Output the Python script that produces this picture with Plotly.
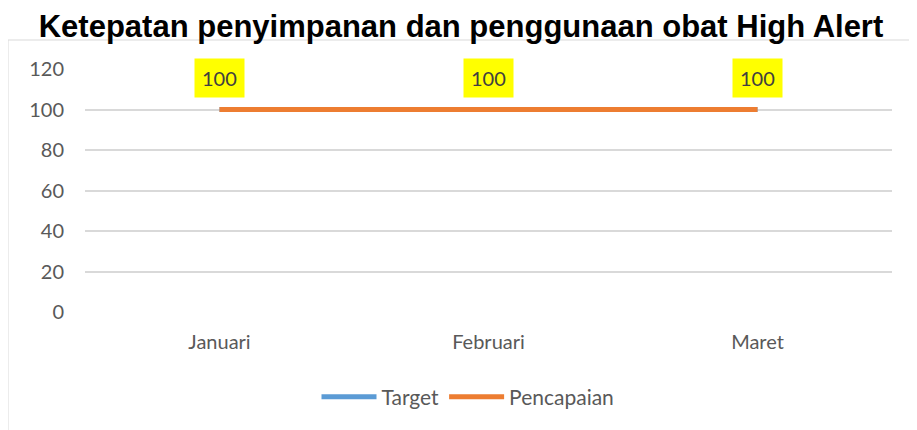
import plotly.graph_objects as go

categories = ["Januari", "Februari", "Maret"]
target = [100, 100, 100]
pencapaian = [100, 100, 100]
y_ticks = [0, 20, 40, 60, 80, 100, 120]

# page offset from default body margin
OFF = 8
W, H = 917 - OFF, 430 - OFF
L = 85 - OFF
T = 69 - OFF
R = W - (892 - OFF)
B = H - (312 - OFF)
pw = W - L - R
ph = H - T - B
FONT = "Lato, Open Sans, sans-serif"

def px_x(px):
    return (px - OFF - L) / pw

def px_y(py):
    return (H - B - (py - OFF)) / ph

fig = go.Figure()
fig.add_trace(go.Scatter(x=categories, y=target, mode="lines", name="Target",
                         line=dict(color="#5B9BD5", width=5)))
fig.add_trace(go.Scatter(x=categories, y=pencapaian, mode="lines", name="Pencapaian",
                         line=dict(color="#ED7D31", width=5)))

for c, v in zip(categories, pencapaian):
    fig.add_annotation(x=c, y=v, text=str(v), showarrow=False, yshift=32,
                       bgcolor="#FFFF00", borderpad=7,
                       font=dict(family=FONT, size=20, color="#404040"))

fig.add_shape(type="rect", xref="paper", yref="paper",
              x0=px_x(8), x1=px_x(930), y0=px_y(445), y1=px_y(40),
              line=dict(color="#D9D9D9", width=1), fillcolor="rgba(0,0,0,0)", layer="below")

fig.update_layout(
    width=W, height=H,
    margin=dict(l=L, r=R, t=T, b=B),
    paper_bgcolor="white", plot_bgcolor="white",
    title=dict(text="<b>Ketepatan penyimpanan dan penggunaan obat High Alert</b>",
               xref="container", x=(461 - OFF) / W, xanchor="center",
               yref="container", y=1 - (26 - OFF) / H, yanchor="middle",
               font=dict(family="Liberation Sans, Arial, sans-serif", size=31, color="black")),
    showlegend=True,
    legend=dict(orientation="h", x=px_x(468), xanchor="center", y=px_y(397), yanchor="middle",
                itemwidth=55,
                font=dict(family=FONT, size=21, color="#595959"),
                bgcolor="rgba(0,0,0,0)"),
    xaxis=dict(range=[-0.5, 2.5], showgrid=False, showline=False, zeroline=False, ticks="",
               automargin=False,
               tickfont=dict(family=FONT, size=20, color="#595959"),
               ticklabelstandoff=16),
    yaxis=dict(range=[0, 120], tickvals=y_ticks, showgrid=True, gridcolor="#D9D9D9", gridwidth=1.5,
               zeroline=False, showline=False, ticks="", automargin=False,
               tickfont=dict(family=FONT, size=20, color="#595959"),
               ticklabelstandoff=20),
)

fig.write_html("out.html")
